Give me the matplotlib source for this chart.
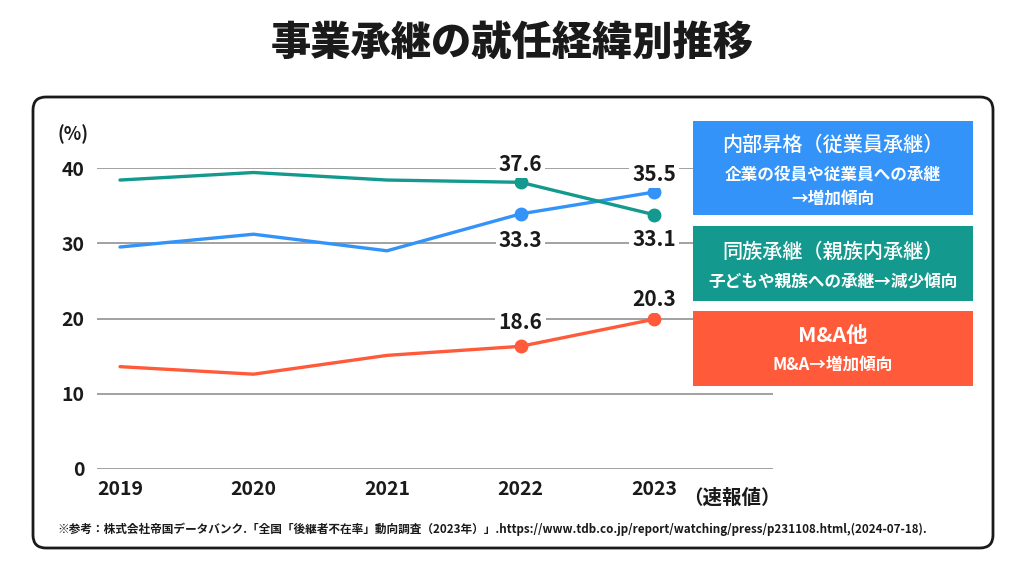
import matplotlib
matplotlib.use('Agg')
import matplotlib.pyplot as plt
from matplotlib.patches import FancyBboxPatch, Rectangle

plt.rcParams['font.family'] = ['Noto Sans CJK JP', 'DejaVu Sans']

# data
years = [2019, 2020, 2021, 2022, 2023]
naibu = [29.5, 31.2, 29.0, 33.9, 36.8]     # 内部昇格
dozoku = [38.4, 39.4, 38.4, 38.1, 33.8]    # 同族承継
ma = [13.6, 12.6, 15.1, 16.3, 19.9]        # M&A他
yticks = [0, 10, 20, 30, 40]

# printed value labels (year, text) per series
naibu_labels = [(2022, '33.3'), (2023, '35.5')]
dozoku_labels = [(2022, '37.6'), (2023, '33.1')]
ma_labels = [(2022, '18.6'), (2023, '20.3')]

blue = '#3393F8'
teal = '#13998D'
red = '#FF5A3A'
grid_c = '#9A9A9A'
dark = '#1A1A1A'

fig = plt.figure(figsize=(10.24, 5.77), dpi=100)

# outer rounded frame (inches)
frame = FancyBboxPatch((0.33, 0.29), 9.60, 4.51,
                       boxstyle='round,pad=0,rounding_size=0.13',
                       transform=fig.dpi_scale_trans, fill=False,
                       edgecolor=dark, linewidth=2.0)
fig.patches.append(frame)

fig.text(0.5, 0.926, '事業承継の就任経緯別推移', ha='center', va='center',
         fontsize=29, fontweight='heavy', color=dark)

ax = fig.add_axes([97 / 1024, 108 / 577, 676 / 1024, 301 / 577])
ax.set_xlim(2019 - 23 / 133.5, 2019 + 653 / 133.5)
ax.set_ylim(0, 40)
for s in ax.spines.values():
    s.set_visible(False)
for y in yticks:
    ax.axhline(y, color=grid_c, linewidth=1.3, zorder=1)

ax.set_yticks(yticks)
ax.set_yticklabels([str(y) for y in yticks])
ax.set_xticks(years)
ax.set_xticklabels([str(y) for y in years])
ax.tick_params(axis='both', length=0, labelsize=14, colors=dark)
ax.tick_params(axis='y', pad=9)
ax.tick_params(axis='x', pad=8)
for lab in ax.get_xticklabels() + ax.get_yticklabels():
    lab.set_fontweight('bold')

ax.annotate('（速報値）', xy=(2023, 0), xycoords='data',
            xytext=(21, -21), textcoords='offset points',
            ha='left', va='center', fontsize=14, fontweight='bold', color=dark)

fig.text(73 / 1024, 1 - 134 / 577, '(%)', ha='center', va='center',
         fontsize=13, fontweight='bold', color=dark)

series = [(naibu, blue, naibu_labels, [-19, 13]),
          (dozoku, teal, dozoku_labels, [13, -18]),
          (ma, red, ma_labels, [17, 14])]
for vals, col, labels, offs in series:
    ax.plot(years, vals, color=col, linewidth=2.4, zorder=3,
            solid_capstyle='round', clip_on=False)
    mk_x = years[-2:]
    mk_y = vals[-2:]
    ax.plot(mk_x, mk_y, 'o', color=col, markersize=9, zorder=4, clip_on=False)
    for (yr, txt), off in zip(labels, offs):
        v = vals[years.index(yr)]
        ax.annotate(txt, xy=(yr, v), xytext=(0, off), textcoords='offset points',
                    ha='center', va='center', fontsize=15, fontweight='bold',
                    color=dark, zorder=5,
                    bbox=dict(boxstyle='square,pad=0.15', facecolor='white',
                              edgecolor='none'))

# legend boxes on the right (inches)
boxes = [(3.62, 0.94, blue), (2.76, 0.75, teal), (1.91, 0.75, red)]
for y0, h, col in boxes:
    fig.patches.append(Rectangle((6.93, y0), 2.80, h, transform=fig.dpi_scale_trans,
                                 facecolor=col, edgecolor='none', zorder=6))

cx = 833 / 1024
def ftxt(ypx, s, size, weight='bold'):
    t = fig.text(cx, 1 - ypx / 577, s, ha='center', va='center', fontsize=size,
                 fontweight=weight, color='white')
    t.set_zorder(7)

ftxt(145, '内部昇格（従業員承継）', 14.5, 'medium')
ftxt(175, '企業の役員や従業員への承継', 12)
ftxt(199, '→増加傾向', 12)
ftxt(252, '同族承継（親族内承継）', 14.5, 'medium')
ftxt(282, '子どもや親族への承継→減少傾向', 12)
ftxt(336, 'M&A他', 15.5)
ftxt(365, 'M&A→増加傾向', 12)

fig.text(57 / 1024, 1 - 529 / 577,
         '※参考：株式会社帝国データバンク.「全国「後継者不在率」動向調査（2023年）」.'
         'https://www.tdb.co.jp/report/watching/press/p231108.html,(2024-07-18).',
         ha='left', va='center', fontsize=8.4, fontweight='bold', color=dark)

fig.savefig('out.png', dpi=100)
